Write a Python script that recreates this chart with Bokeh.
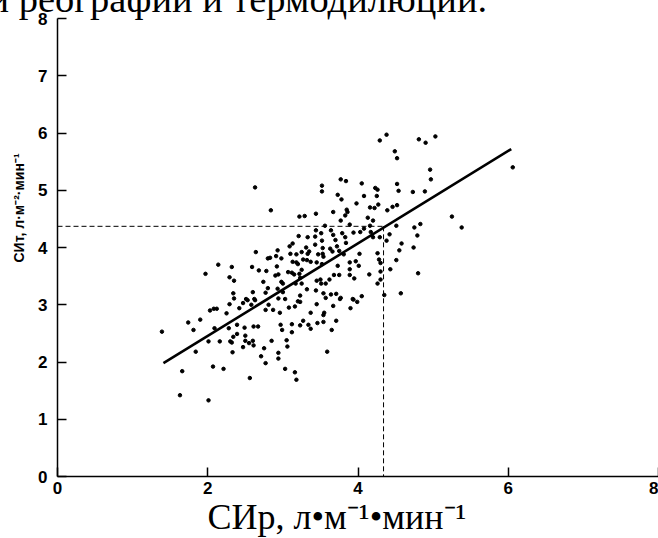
from bokeh.plotting import figure
from bokeh.models import Range1d, FixedTicker, Title
from bokeh.embed import file_html
from bokeh.resources import INLINE

# Cardiac index by rheography (x) vs thermodilution (y), one point per measurement
cir_x = [
    2.63, 3.52, 3.52, 2.84, 3.22, 3.29, 3.44, 3.56, 3.44, 3.51,
    3.21, 3.33, 2.64, 2.80, 2.83, 2.93, 2.91, 2.98, 3.09, 3.13,
    3.10, 3.18, 3.25, 3.33, 3.35, 3.47, 3.53, 3.54, 3.13, 3.18,
    3.20, 3.27, 3.32, 3.37, 3.45, 3.52, 2.14, 1.97, 2.32, 2.29,
    2.35, 2.59, 2.68, 2.78, 2.92, 2.90, 2.94, 3.07, 3.12, 3.15,
    3.22, 3.25, 2.74, 2.98, 3.00, 3.17, 3.23, 3.45, 3.50, 3.51,
    3.57, 3.62, 2.34, 2.60, 2.77, 2.93, 3.00, 3.23, 3.32, 3.44,
    3.54, 2.35, 2.51, 2.62, 2.94, 3.03,
    4.29, 4.38, 4.81, 4.90, 5.03, 4.49, 4.52, 4.96, 4.97, 6.06,
    3.77, 3.84, 4.05, 4.23, 4.26, 4.52, 4.54, 4.73, 4.89, 3.73,
    3.78, 4.08, 4.25, 3.98, 3.85, 3.86, 4.16, 4.22, 4.27, 4.39,
    4.46, 4.52, 3.67, 3.83, 4.13, 4.20, 3.77, 5.25, 5.38, 3.89,
    4.16, 4.51, 4.75, 4.83, 3.64, 3.67, 3.79, 3.94, 4.03, 4.08,
    3.83, 4.17, 4.20, 4.29, 4.42, 4.38, 4.79, 3.43, 3.43, 3.52,
    3.53, 3.70, 3.72, 3.84, 3.63, 3.66, 3.75, 3.81, 4.02, 3.31,
    4.55, 4.58, 4.74, 4.26, 4.51, 4.28, 4.30, 4.43, 4.80, 3.89,
    3.97, 4.01, 3.89, 3.95, 3.73, 3.68, 3.75, 4.15, 4.30, 4.30,
    4.26, 3.64, 3.71, 3.77, 3.93, 4.05, 4.35, 4.57, 3.89,
    1.39, 1.63, 1.66, 2.01, 1.74, 1.81, 1.90, 1.84, 2.03, 2.08,
    2.12, 2.09, 2.01, 2.07, 2.21, 2.16, 2.25, 2.29, 2.28, 2.34,
    2.39, 2.30, 2.32, 2.33, 2.39, 2.42, 2.47, 2.53, 2.49, 2.50,
    2.50, 2.47, 2.55, 2.60, 2.56, 2.58, 2.63, 2.61, 2.67, 2.61,
    2.71, 2.80, 2.77, 2.81, 2.75, 2.77, 2.85, 2.87, 2.96, 2.94,
    2.94, 2.97, 2.99, 3.03, 3.05, 3.06, 3.08, 3.12, 3.12, 3.16,
    3.18, 3.16, 3.20, 3.23, 3.25, 3.23, 3.27, 3.34, 3.37, 3.37,
    3.45, 3.46, 3.54, 3.55, 3.54, 3.57, 3.59, 3.65, 3.67, 3.71,
    3.76, 3.90, 3.94, 3.99,
]
cit_y = [
    5.05, 5.08, 4.98, 4.65, 4.54, 4.55, 4.59, 4.38, 4.30, 4.25,
    4.20, 4.18, 3.92, 3.81, 3.82, 3.95, 3.85, 3.81, 4.02, 4.07,
    3.89, 3.88, 3.92, 3.89, 3.93, 3.88, 3.89, 3.84, 3.75, 3.74,
    3.71, 3.79, 3.78, 3.75, 3.74, 3.71, 3.70, 3.54, 3.66, 3.48,
    3.42, 3.66, 3.60, 3.59, 3.67, 3.51, 3.53, 3.57, 3.56, 3.53,
    3.54, 3.61, 3.40, 3.40, 3.37, 3.37, 3.47, 3.42, 3.44, 3.37,
    3.37, 3.44, 3.20, 3.22, 3.21, 3.28, 3.22, 3.16, 3.27, 3.25,
    3.20, 3.11, 3.10, 3.10, 3.11, 3.10,
    5.87, 5.97, 5.89, 5.83, 5.94, 5.68, 5.56, 5.36, 5.19, 5.40,
    5.19, 5.16, 5.12, 5.04, 5.01, 5.11, 4.99, 4.97, 4.98, 4.92,
    4.84, 4.90, 4.90, 4.77, 4.66, 4.62, 4.70, 4.69, 4.75, 4.65,
    4.71, 4.74, 4.62, 4.56, 4.52, 4.47, 4.47, 4.54, 4.35, 4.40,
    4.38, 4.38, 4.35, 4.41, 4.30, 4.22, 4.25, 4.26, 4.27, 4.33,
    4.18, 4.27, 4.18, 4.18, 4.23, 4.12, 4.21, 4.19, 4.05, 4.12,
    3.99, 4.13, 4.02, 4.08, 3.98, 3.93, 3.94, 3.88, 3.89, 4.00,
    3.95, 4.07, 4.00, 3.90, 3.78, 3.79, 3.73, 3.62, 3.55, 3.74,
    3.76, 3.68, 3.62, 3.46, 3.68, 3.52, 3.52, 3.53, 3.58, 3.44,
    3.37, 3.18, 3.19, 3.12, 3.10, 3.15, 3.17, 3.20, 3.52,
    2.53, 1.42, 1.84, 1.33, 2.69, 2.56, 2.74, 2.18, 2.90, 2.93,
    2.93, 2.59, 2.36, 1.92, 1.88, 2.36, 2.85, 3.01, 2.59, 2.44,
    2.49, 2.36, 2.34, 2.17, 2.65, 2.94, 3.03, 3.08, 2.60, 2.46,
    2.37, 2.26, 2.33, 2.37, 1.72, 3.00, 3.08, 2.62, 2.62, 2.29,
    2.10, 3.29, 2.91, 3.00, 2.24, 1.98, 2.37, 2.91, 2.86, 2.16,
    2.06, 2.65, 2.56, 1.88, 2.38, 2.27, 2.95, 2.66, 2.52, 1.82,
    1.69, 2.97, 3.06, 3.05, 3.37, 2.64, 2.72, 2.65, 2.86, 2.58,
    3.01, 2.68, 2.82, 2.86, 2.70, 3.12, 2.18, 2.56, 2.98, 2.72,
    3.10, 2.94, 3.09, 3.05,
]

fit_x = [1.41, 6.04]
fit_y = [1.98, 5.72]
read_x = 4.34
read_y = 4.37
x_ticks = [0, 2, 4, 6, 8]
y_ticks = [0, 1, 2, 3, 4, 5, 6, 7, 8]

p = figure(width=658, height=538, x_range=Range1d(0, 8), y_range=Range1d(0, 8),
           output_backend="svg", toolbar_location=None,
           min_border_left=56, min_border_right=0, min_border_top=18, min_border_bottom=62)
p.outline_line_color = None
p.grid.visible = False
p.background_fill_color = "white"
p.border_fill_color = "white"

for ax in (p.xaxis[0], p.yaxis[0]):
    ax.axis_line_width = 1.5
    ax.axis_line_color = "black"
    ax.major_tick_in = 9
    ax.major_tick_out = 0
    ax.minor_tick_in = 0
    ax.minor_tick_out = 0
    ax.major_tick_line_width = 1.5
    ax.major_tick_line_color = "black"
    ax.major_label_text_font = "Liberation Sans"
    ax.major_label_text_font_style = "bold"
    ax.major_label_text_font_size = "17px"
    ax.major_label_text_color = "black"
p.xaxis.ticker = FixedTicker(ticks=x_ticks)
p.yaxis.ticker = FixedTicker(ticks=y_ticks)
p.yaxis.major_label_standoff = 10
p.xaxis.major_label_standoff = 5

# reading guides
p.line([0, read_x], [read_y, read_y], line_color="black", line_width=1, line_dash="5 3")
p.line([read_x, read_x], [read_y, 0], line_color="black", line_width=1, line_dash="5 3")

# regression line
p.line(fit_x, fit_y, line_color="black", line_width=2.6)

# points
p.scatter(cir_x, cit_y, size=3.5, marker="circle", fill_color="black", line_color="black")

# small spacer so that the cropped page line sits higher
spacer = Title(text=" ", text_font_size="2px", standoff=13.4)
p.add_layout(spacer, "above")

# cropped page text at the top
top_t = Title(text="и реографии и термодилюции.", text_font="Liberation Serif",
              text_font_size="38.5px", text_font_style="normal", text_color="black",
              align="left", offset=-69, vertical_align="top", standoff=-44.3)
p.add_layout(top_t, "above")

# y axis label
y_t = Title(text="СИт, л·м⁻²·мин⁻¹", text_font="Liberation Sans", text_font_size="14px",
            text_font_style="bold", text_color="black", align="left", offset=214, standoff=17)
p.add_layout(y_t, "left")

# x axis label
x_t = Title(text="СИр, л•м⁻¹•мин⁻¹", text_font="Liberation Serif", text_font_size="36px",
            text_font_style="normal", text_color="black", align="left", offset=150,
            vertical_align="bottom", standoff=-4)
p.add_layout(x_t, "below")

open("out.html", "w").write(file_html(p, INLINE))
